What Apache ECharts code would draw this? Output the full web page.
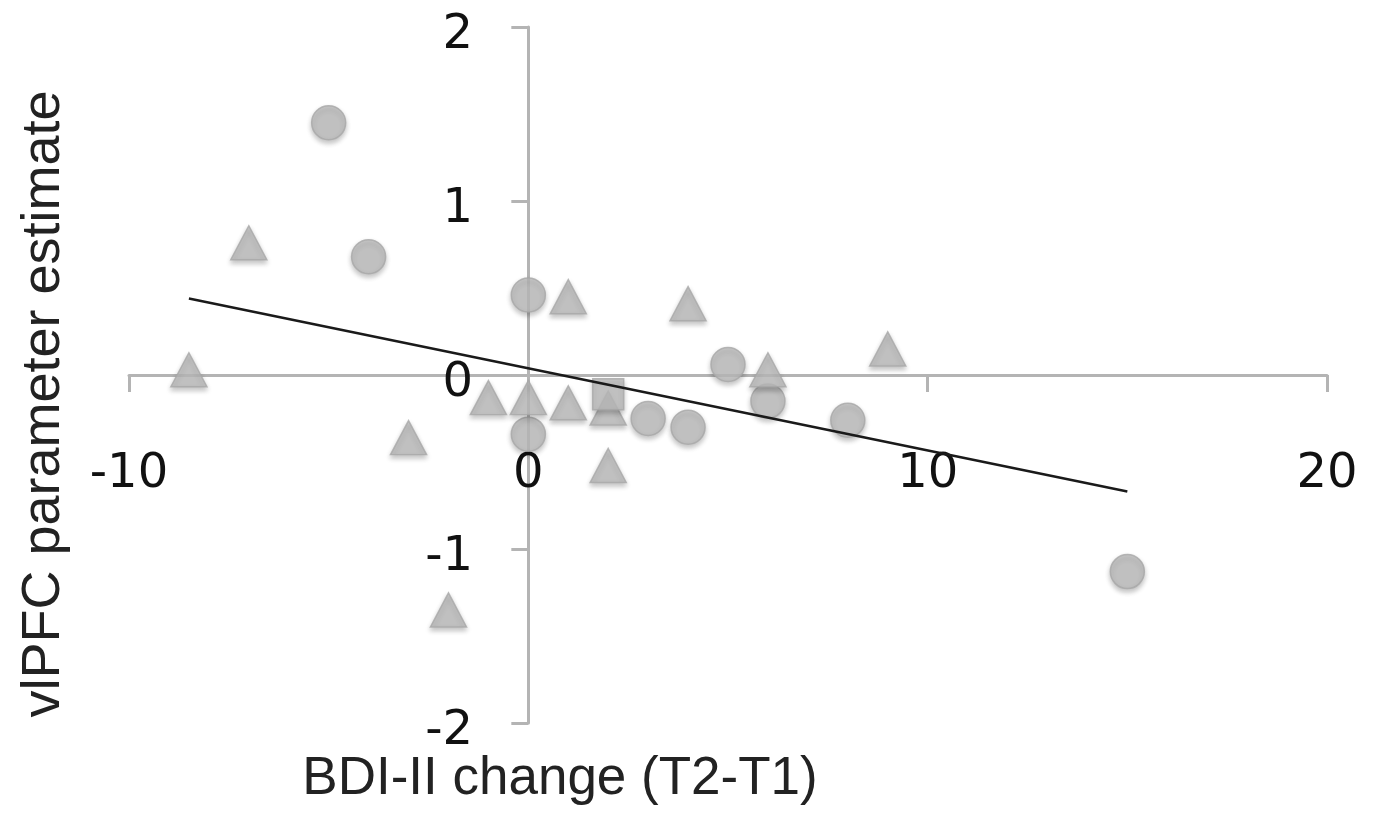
<!DOCTYPE html>
<html>
<head>
<meta charset="utf-8">
<script src="https://cdn.jsdelivr.net/npm/echarts@6.0.0/dist/echarts.min.js"></script>
<style>
  html, body { margin: 0; padding: 0; background: #fff; }
  #chart { width: 1374px; height: 819px; }
</style>
</head>
<body>
<div id="chart"></div>
<script>
// BDI-II change vs vlPFC parameter estimate
const circlePoints = [
  [-5, 1.45], [-4, 0.68], [0, 0.46], [0, -0.34], [3, -0.25],
  [4, -0.30], [5, 0.06], [6, -0.15], [8, -0.26], [15, -1.13]
]
const trianglePoints = [
  [-8.5, 0.03], [-7, 0.76], [-3, -0.36], [-2, -1.35], [-1, -0.13],
  [0, -0.13], [1, -0.16], [1, 0.45], [2, -0.52], [2, -0.19],
  [4, 0.41], [6, 0.03], [9, 0.15]
]
const squarePoints = [
  [2, -0.11]
]
// linear trend line end points
const fitLine = [[-8.5, 0.44], [15, -0.67]]

const xTitle = 'BDI-II change (T2-T1)'
const yTitle = 'vlPFC parameter estimate'

const markerStyle = {
  color: '#bebebe',
  borderColor: '#a7a7a7',
  borderWidth: 1.5,
  shadowColor: 'rgba(0, 0, 0, 0.28)',
  shadowBlur: 5,
  shadowOffsetY: 3
}
const axisGrey = '#b4b4b4'

const chart = echarts.init(document.getElementById('chart'))
// axis lines sit on zero, labels stay at grid edges -> pull them in with negative margins
const option = {
  animation: false,
  backgroundColor: '#ffffff',
  grid: {
    left: 129, right: 47, top: 27, bottom: 96,
    containLabel: false,
    outerBoundsMode: 'none'
  },
  xAxis: {
    type: 'value',
    min: -10,
    max: 20,
    interval: 10,
    name: xTitle,
    nameLocation: 'middle',
    nameGap: 30,
    nameTextStyle: {
      fontFamily: 'Liberation Sans',
      fontSize: 53,
      color: '#222',
      padding: [0, 336, 0, 0]
    },
    axisLine: { onZero: true, lineStyle: { color: axisGrey, width: 3 } },
    axisTick: { show: true, length: 17, lineStyle: { color: axisGrey, width: 3 } },
    axisLabel: {
      margin: -272,
      fontFamily: 'DejaVu Sans',
      fontSize: 48,
      lineHeight: 48,
      color: '#111'
    },
    splitLine: { show: false }
  },
  yAxis: {
    type: 'value',
    min: -2,
    max: 2,
    interval: 1,
    name: yTitle,
    nameLocation: 'middle',
    nameGap: 58,
    nameTextStyle: {
      fontFamily: 'Liberation Sans',
      fontSize: 54,
      color: '#222',
      padding: [0, 58, 0, 0]
    },
    axisLine: { onZero: true, lineStyle: { color: axisGrey, width: 3 } },
    axisTick: { show: true, length: 17, lineStyle: { color: axisGrey, width: 3 } },
    axisLabel: {
      margin: -344,
      fontFamily: 'DejaVu Sans',
      fontSize: 48,
      verticalAlign: 'top',
      lineHeight: 17,
      color: '#111'
    },
    splitLine: { show: false }
  },
  series: [
    {
      name: 'circles',
      type: 'scatter',
      symbol: 'circle',
      symbolSize: 34,
      itemStyle: markerStyle,
      data: circlePoints
    },
    {
      name: 'triangles',
      type: 'scatter',
      symbol: 'triangle',
      symbolSize: [36, 34],
      itemStyle: markerStyle,
      data: trianglePoints
    },
    {
      name: 'squares',
      type: 'scatter',
      symbol: 'rect',
      symbolSize: 31,
      itemStyle: markerStyle,
      data: squarePoints
    },
    {
      name: 'trend',
      type: 'line',
      z: 5,
      symbol: 'none',
      lineStyle: { color: '#1a1a1a', width: 2.5 },
      data: fitLine
    }
  ]
}
chart.setOption(option)
</script>
</body>
</html>
